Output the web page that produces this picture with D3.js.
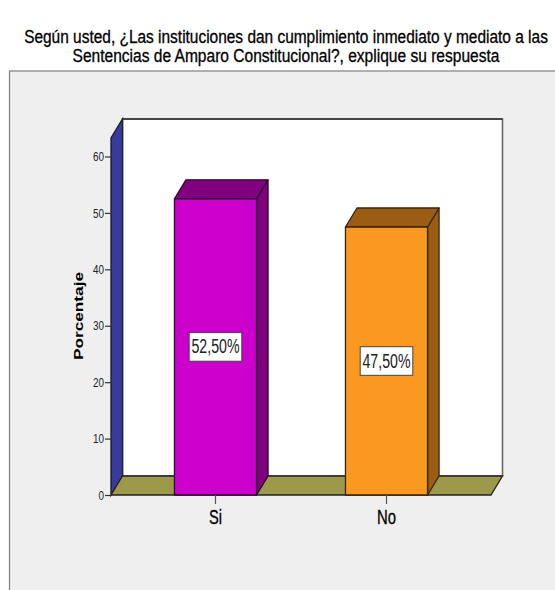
<!DOCTYPE html>
<html><head><meta charset="utf-8">
<script src="https://cdn.jsdelivr.net/npm/d3@7"></script>
<style>html,body{margin:0;padding:0;background:#fff}svg{display:block}text{font-family:"Liberation Sans",Arial,sans-serif}</style>
</head><body><div id="c"></div>
<script>
const categories = ["Si","No"];
const values = [52.5,47.5];
const valueLabels = ["52,50%","47,50%"];
const fronts = ["#cc00cc","#fb981f"];
const sides = ["#800080","#9b5c14"];
const yTicks = [0,10,20,30,40,50,60];
const titleLines = ["Según usted, ¿Las instituciones dan cumplimiento inmediato y mediato a las","Sentencias de Amparo Constitucional?, explique su respuesta"];
const titleWidths = [524,427];
const yTitle = "Porcentaje";

const W=555,H=590,dx=11.5,dy=-19;
const svg=d3.select("#c").append("svg").attr("width",W).attr("height",H);
const y=d3.scaleLinear().domain([0,60]).range([495,156.5]);
const x=d3.scaleBand().domain(categories).range([111,491]).paddingInner(0.52).paddingOuter(0.371);
const wallTop=y(60)-18.5;
const line=d3.line();
const dark="#222";

svg.append("rect").attr("x",9.5).attr("y",71).attr("width",560).attr("height",540).attr("fill","#efefef").attr("stroke","#808080").attr("stroke-width",1.2);

svg.selectAll("text.title").data(titleLines).join("text").attr("class","title")
 .attr("text-anchor","middle")
 .attr("font-size",17.5).attr("fill","#000").attr("stroke","#000").attr("stroke-width",0.3)
 .text(d=>d)
 .attr("transform",function(d,i){
   const k=titleWidths[i]/this.getComputedTextLength();
   return `translate(286,${43+i*19}) scale(${k},1)`;
 });

// back wall
svg.append("rect").attr("x",111+dx).attr("y",wallTop+dy).attr("width",380).attr("height",y(0)-wallTop)
 .attr("fill","#fff").attr("stroke","#666").attr("stroke-width",1.6);
svg.append("path").attr("d",line([[111+dx,wallTop+dy],[111+dx+380,wallTop+dy]])).attr("stroke","#333").attr("stroke-width",1.6);
// left wall
svg.append("path").attr("d",line([[111,y(0)],[111,wallTop],[111+dx,wallTop+dy],[111+dx,y(0)+dy]])+"Z")
 .attr("fill","#393a9e").attr("stroke",dark).attr("stroke-width",1.4);
// floor
svg.append("path").attr("d",line([[111,y(0)],[491,y(0)],[491+dx,y(0)+dy],[111+dx,y(0)+dy]])+"Z")
 .attr("fill","#9c9a4a").attr("stroke",dark).attr("stroke-width",1.3);

// y axis
const ax=svg.append("g").attr("transform","translate(111,0)").call(d3.axisLeft(y).tickValues(yTicks).tickSize(6).tickPadding(1));
ax.select(".domain").remove();
ax.selectAll("line").attr("stroke","#333").attr("stroke-width",1.2);
ax.selectAll("text").attr("font-size",13).attr("fill","#222").style("font-family","'Liberation Sans'").attr("textLength",d=>d===0?5.5:11).attr("lengthAdjust","spacingAndGlyphs");

svg.append("text").attr("transform","translate(83,316) rotate(-90)").attr("text-anchor","middle")
 .attr("font-size",13).attr("font-weight","bold").attr("textLength",88).attr("lengthAdjust","spacingAndGlyphs").attr("fill","#000").text(yTitle);

// bars
categories.forEach((c,i)=>{
 const x0=x(c),x1=x0+x.bandwidth(),yt=y(values[i]),yb=y(0);
 const g=svg.append("g").attr("stroke",i?"#3a2408":"#2a0a2a").attr("stroke-width",1.3).attr("stroke-linejoin","round");
 g.append("path").attr("d",line([[x1,yb],[x1+dx,yb+dy],[x1+dx,yt+dy],[x1,yt]])+"Z").attr("fill",sides[i]);
 g.append("path").attr("d",line([[x0,yt],[x0+dx,yt+dy],[x1+dx,yt+dy],[x1,yt]])+"Z").attr("fill",sides[i]);
 g.append("rect").attr("x",x0).attr("y",yt).attr("width",x1-x0).attr("height",yb-yt).attr("fill",fronts[i]);
 const cx=x0+(x1-x0)/2, cy=(yt+yb)/2;
 svg.append("rect").attr("x",cx-26.3).attr("y",cy-14.3).attr("width",52.6).attr("height",28.6).attr("fill","#fff").attr("stroke","#444").attr("stroke-width",1);
 svg.append("text").attr("x",cx).attr("y",cy+6.5).attr("text-anchor","middle").attr("font-size",20)
  .attr("textLength",48).attr("lengthAdjust","spacingAndGlyphs").attr("fill","#222").text(valueLabels[i]);
 svg.append("path").attr("d",line([[cx,yb],[cx,yb+9]])).attr("stroke","#555").attr("stroke-width",1.2);
 svg.append("text").attr("x",cx).attr("y",yb+29).attr("text-anchor","middle").attr("font-size",19.5).attr("fill","#000")
  .attr("stroke","#000").attr("stroke-width",0.3).attr("textLength",i?19:13).attr("lengthAdjust","spacingAndGlyphs").text(c);
});
</script></body></html>
